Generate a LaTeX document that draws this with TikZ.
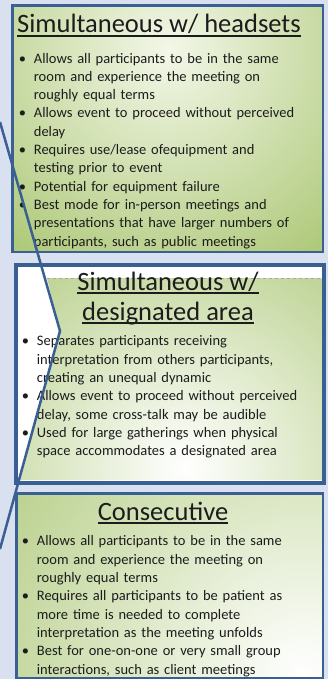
\documentclass[tikz,border=0pt]{standalone}
\usepackage{fontspec}
\setmainfont{Carlito}
\usetikzlibrary{positioning}
\definecolor{paneledge}{HTML}{3A5F93}
\definecolor{slideblue}{HTML}{D9E1F0}
\definecolor{olive}{HTML}{98BA56}
\definecolor{paleolive}{HTML}{F3F7E8}
\definecolor{inktext}{HTML}{1C1C1C}
\newcommand{\hdline}[1]{\setbox0=\hbox{#1}\leavevmode\rlap{\rule[-4pt]{\wd0}{1.8pt}}\box0}
\newcommand{\pitem}[1]{\par\hangindent=15pt\hangafter=1\noindent\makebox[15pt][l]{\textbullet}#1}
\tikzstyle{panel} = [rectangle, draw=paneledge, line width=2.6pt, anchor=north west, inner sep=0pt]
\tikzstyle{heading} = [inner sep=0pt, text=inktext, font=\fontsize{26.5}{32}\selectfont]
\tikzstyle{points} = [inner sep=0pt, anchor=base west, text width=305pt, text=inktext, font=\fontsize{14.5}{18.3}\selectfont]

\begin{document}
\begin{tikzpicture}[x=1pt,y=-1pt]
    \useasboundingbox[fill=slideblue] (0,0) rectangle (328,679);

    \node [panel, minimum width=310.4pt, minimum height=246.4pt,
           path picture={\shade[inner color=paleolive, outer color=olive]
             ([yshift=-45pt]path picture bounding box.north) circle (330pt);}]
          (heads) at (11.3,4.3) {};
    \node [panel, fill=white, minimum width=306.4pt, minimum height=216.4pt] (zone) at (15.3,264.3) {};
    \node [panel, minimum width=306.4pt, minimum height=184.4pt,
           path picture={\shade[inner color=white, outer color=olive]
             ([xshift=-20pt,yshift=4pt]path picture bounding box.south east) circle (520pt);}]
          (consec) at (15.3,492.3) {};

    \coordinate (top) at (0,122);
    \coordinate (kink) at (60,331);
    \coordinate (foot) at (0,549);

    % green part of the middle panel
    \begin{scope}
        \clip (47,278) -- (321.7,278) -- (321.7,480) -- (19.7,480) -- (kink) -- cycle;
        \shade[inner color=white, outer color=olive] (185,468) circle (380pt);
    \end{scope}
    \draw[gray!70, line width=0.6pt, dashed] (47,278) -- (321.7,278);
    \draw[paneledge, line width=2.6pt] (zone.north west) rectangle (zone.south east);

    \node [heading, anchor=base west] (t1) at (17,33) {\hdline{Simultaneous w/ headsets}};
    \node [points] (p1) at (18.7,44.8) {%
        \pitem{Allows all participants to be in the same\newline room and experience the meeting on\newline roughly equal terms}
        \pitem{Allows event to proceed without perceived\newline delay}
        \pitem{Requires use/lease ofequipment and\newline testing prior to event}
        \pitem{Potential for equipment failure}
        \pitem{Best mode for in-person meetings and\newline presentations that have larger numbers of\newline participants, such as public meetings}\par};

    \node [heading, align=center, anchor=base] (t2) at (168,320) {\hdline{Simultaneous w/}\\[-2pt]\hdline{designated area}};
    \node [points] (p2) at (21.7,327.6) {%
        \pitem{Separates participants receiving\newline interpretation from others participants,\newline creating an unequal dynamic}
        \pitem{Allows event to proceed without perceived\newline delay, some cross-talk may be audible}
        \pitem{Used for large gatherings when physical\newline space accommodates a designated area}\par};

    \node [heading, anchor=base] (t3) at (163,520) {\hdline{Consecutive}};
    \node [points] (p3) at (21.7,527.6) {%
        \pitem{Allows all participants to be in the same\newline room and experience the meeting on\newline roughly equal terms}
        \pitem{Requires all participants to be patient as\newline more time is needed to complete\newline interpretation as the meeting unfolds}
        \pitem{Best for one-on-one or very small group\newline interactions, such as client meetings}\par};

    \draw[paneledge, line width=2.5pt] (top) -- (kink) -- (foot);
\end{tikzpicture}
\end{document}
